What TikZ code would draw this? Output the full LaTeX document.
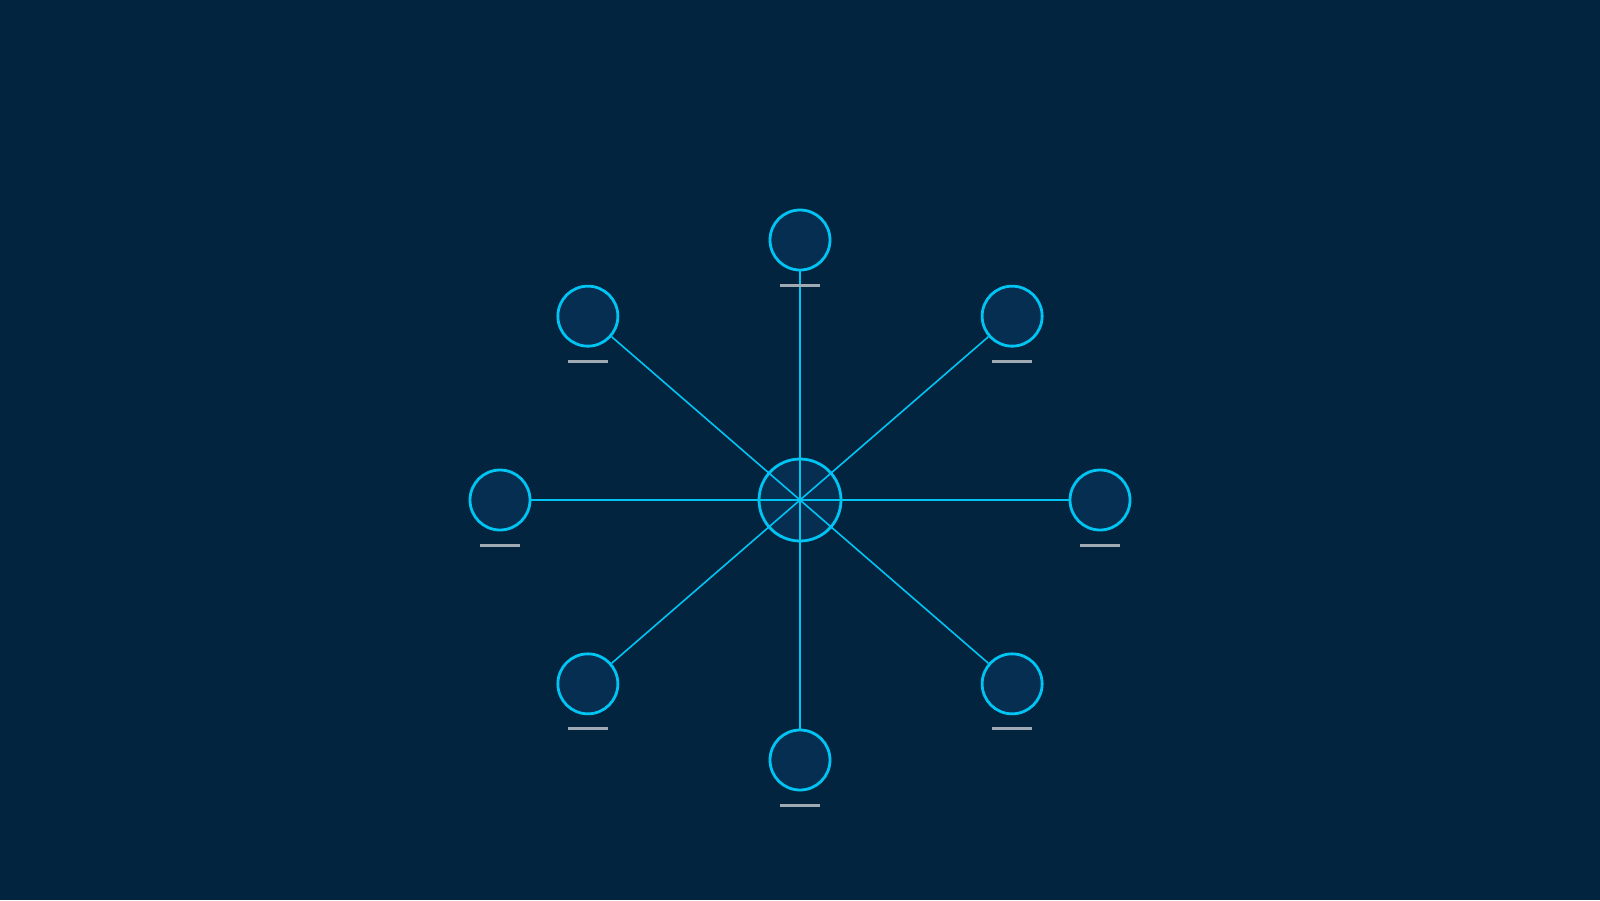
\documentclass[tikz,border=0pt]{standalone}
\definecolor{bgc}{HTML}{02243E}
\definecolor{fillc}{HTML}{052E50}
\definecolor{strokec}{HTML}{00C4F4}
\definecolor{barc}{HTML}{A0AAB4}
\begin{document}
\begin{tikzpicture}[x=0.5pt,y=-0.5pt,
  outer/.style={circle,draw=strokec,fill=fillc,line width=1.4pt,minimum size=30pt,inner sep=0pt},
  hub/.style={circle,draw=strokec,fill=fillc,line width=1.4pt,minimum size=41pt,inner sep=0pt},
  spoke/.style={draw=strokec,line width=0.8pt},
  bar/.style={fill=barc,minimum width=20pt,minimum height=1.5pt,inner sep=0pt}]
\fill[bgc] (0,0) rectangle (1600,900);
\useasboundingbox (0,0) rectangle (1600,900);
\node[hub] (c) at (800,500) {};
\coordinate (o) at (800,500);
\foreach \n/\a in {n1/90,n2/45,n3/0,n4/-45,n5/-90,n6/-135,n7/180,n8/135}{
  \node[outer] (\n) at ({800+300*cos(\a)},{500-260*sin(\a)}) {};
  \draw[spoke] (o) -- (\n);
  \node[bar] (\n b) at ([yshift=-22.5pt]\n.center) {};
}
\end{tikzpicture}
\end{document}
